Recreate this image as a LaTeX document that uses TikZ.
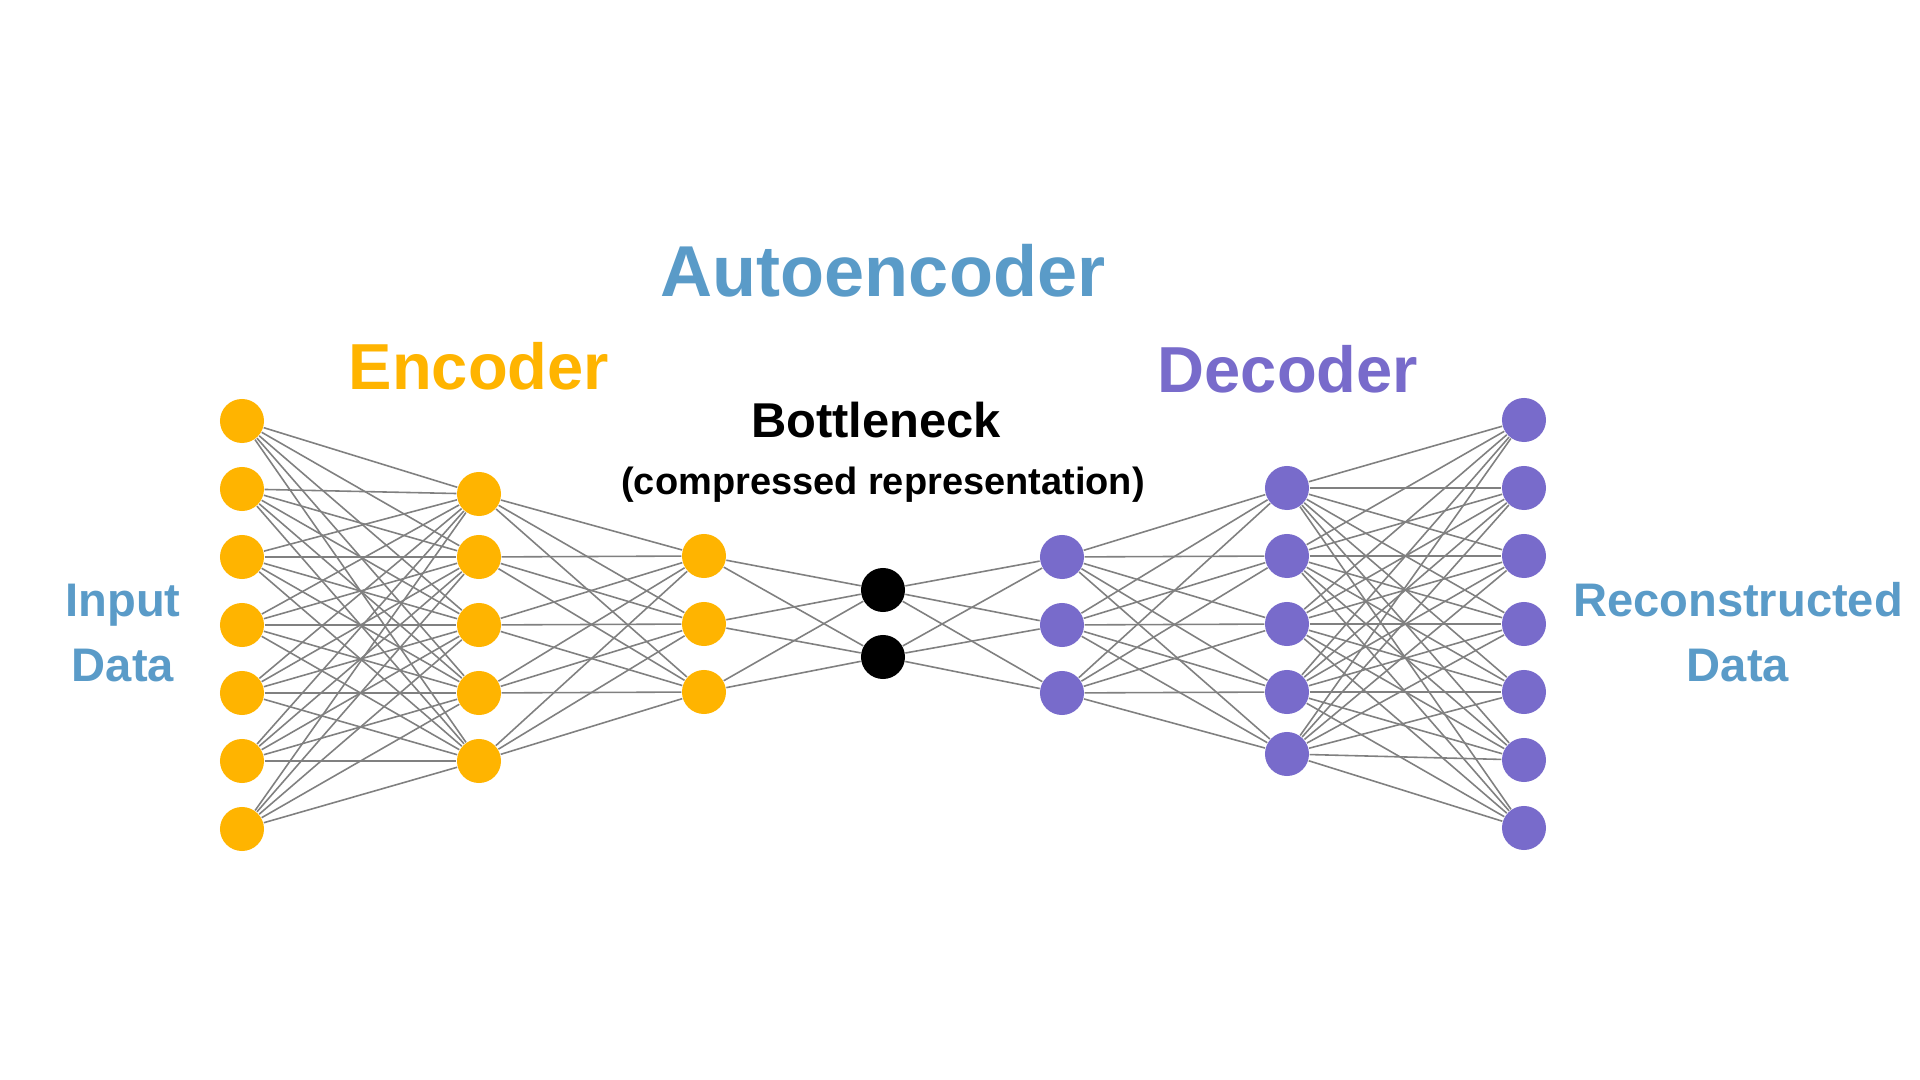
\documentclass[tikz,border=0pt]{standalone}
\usepackage{fontspec}
\setmainfont{Liberation Sans}
\usepackage{xcolor}
\usetikzlibrary{positioning,backgrounds}
\definecolor{encorange}{HTML}{FFB400}
\definecolor{decpurple}{HTML}{786BCB}
\definecolor{titleblue}{HTML}{5A9BC8}
\definecolor{linkgray}{HTML}{808080}
\tikzset{
  unit/.style={circle,inner sep=0pt,minimum size=0.44cm},
  encunit/.style={unit,fill=encorange},
  decunit/.style={unit,fill=decpurple},
  codeunit/.style={unit,fill=black},
  wlink/.style={line width=0.45pt,draw=linkgray},
  bigtitle/.style={font=\fontsize{20.5pt}{24pt}\selectfont\bfseries,text=titleblue},
  parttitle/.style={font=\fontsize{18.5pt}{22pt}\selectfont\bfseries},
  sidelabel/.style={font=\fontsize{13.4pt}{18.5pt}\selectfont\bfseries,text=titleblue,align=center}
}
\begin{document}
\begin{tikzpicture}[x=0.01cm,y=-0.01cm]
  \useasboundingbox[fill=white] (0,0) rectangle (1920,1080);
  % layers
  \foreach \i/\y in {1/421,2/489,3/557,4/625,5/693,6/761,7/829}
    \node[encunit] (in\i) at (242,\y) {};
  \foreach \i/\y in {1/494,2/557,3/625,4/693,5/761}
    \node[encunit] (h\i) at (479,\y) {};
  \foreach \i/\y in {1/556,2/624,3/692}
    \node[encunit] (c\i) at (704,\y) {};
  \foreach \i/\y in {1/590,2/657}
    \node[codeunit] (z\i) at (883,\y) {};
  \foreach \i/\y in {1/557,2/625,3/693}
    \node[decunit] (d\i) at (1062,\y) {};
  \foreach \i/\y in {1/488,2/556,3/624,4/692,5/754}
    \node[decunit] (g\i) at (1287,\y) {};
  \foreach \i/\y in {1/420,2/488,3/556,4/624,5/692,6/760,7/828}
    \node[decunit] (out\i) at (1524,\y) {};
  % weights
  \foreach \a in {1,...,7} \foreach \b in {1,...,5} \draw[wlink] (in\a) -- (h\b);
  \foreach \a in {1,...,5} \foreach \b in {1,...,3} \draw[wlink] (h\a) -- (c\b);
  \foreach \a in {1,...,3} \foreach \b in {1,2} \draw[wlink] (c\a) -- (z\b);
  \foreach \a in {1,2} \foreach \b in {1,...,3} \draw[wlink] (z\a) -- (d\b);
  \foreach \a in {1,...,3} \foreach \b in {1,...,5} \draw[wlink] (d\a) -- (g\b);
  \foreach \a in {1,...,5} \foreach \b in {1,...,7} \draw[wlink] (g\a) -- (out\b);
  % labels
  \node[bigtitle,anchor=base] (title) at (883,297) {Autoencoder};
  \node[parttitle,text=encorange,anchor=base] (enc) at (479,390) {Encoder};
  \node[parttitle,text=decpurple,anchor=base] (dec) at (1288,393) {Decoder};
  \node[font=\fontsize{13.9pt}{16pt}\selectfont\bfseries,anchor=base] (bneck) at (876,438) {Bottleneck};
  \node[font=\fontsize{10.8pt}{13pt}\selectfont\bfseries,anchor=base] (bnote) at (883,495) {(compressed representation)};
  \node[sidelabel,anchor=base] (inlab) at (123,682) {Input\\Data};
  \node[sidelabel,anchor=base] (outlab) at (1738,682) {Reconstructed\\Data};
\end{tikzpicture}
\end{document}
